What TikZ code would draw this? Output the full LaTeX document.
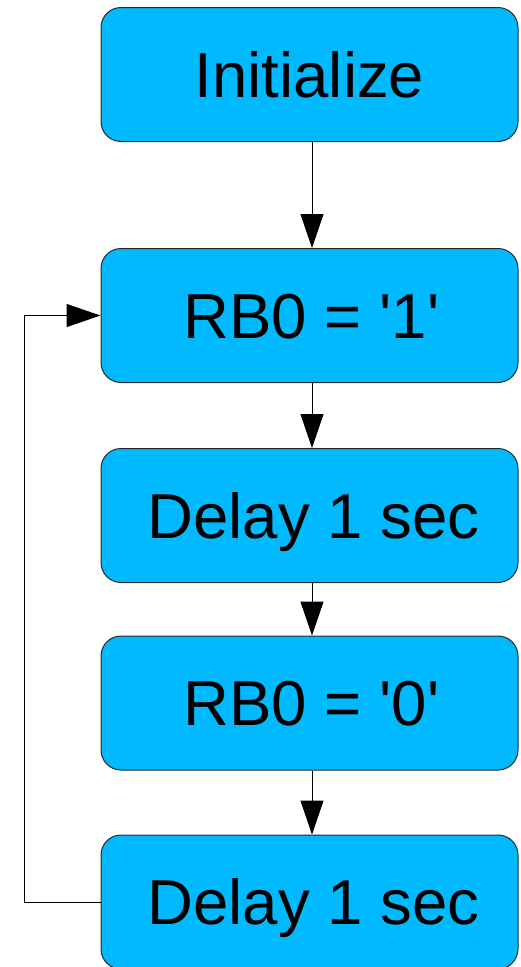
\documentclass[tikz,border=0pt]{standalone}
\usepackage{fontspec}
\setmainfont{Liberation Sans}[Ligatures=TeXOff]
\usetikzlibrary{arrows.meta}
\definecolor{boxblue}{RGB}{0,185,255}
\definecolor{edge}{RGB}{40,40,40}
\tikzset{
  stepbox/.style={draw=edge, line width=1pt, fill=boxblue, rounded corners=20pt,
    minimum width=417pt, minimum height=134pt, inner sep=0pt,
    text height=45pt, text depth=0pt,
    font=\fontsize{63.5}{75}\selectfont},
  flow/.style={draw=black, line width=1pt, -{Triangle[length=34pt,width=23pt]}}
}
\begin{document}
\begin{tikzpicture}[x=1pt,y=-1pt]
\useasboundingbox (0,0) rectangle (521,967);
\node[stepbox] (init)  at (309.5,74.5)  {Initialize};
\node[stepbox] (rbone) at (309.5,315.5) {\hspace{4pt}RB0 = '1'};
\node[stepbox] (delA)  at (309.5,515.5) {\hspace{8pt}Delay 1 sec};
\node[stepbox] (rbzero) at (309.5,703)  {\hspace{4pt}RB0 = '0'};
\node[stepbox] (delB)  at (309.5,902)   {\hspace{8pt}Delay 1 sec};
\coordinate (loopbot) at (24,902);
\coordinate (looptop) at (24,315.5);
\draw[flow] (init.south -| 312,0) -- (rbone.north -| 312,0);
\draw[flow] (rbone.south -| 312,0) -- (delA.north -| 312,0);
\draw[flow] (delA.south -| 312,0) -- (rbzero.north -| 312,0);
\draw[flow] (rbzero.south -| 312,0) -- (delB.north -| 312,0);
\draw[flow] (delB.west) -- (loopbot) -- (looptop) -- (rbone.west);
\end{tikzpicture}
\end{document}
